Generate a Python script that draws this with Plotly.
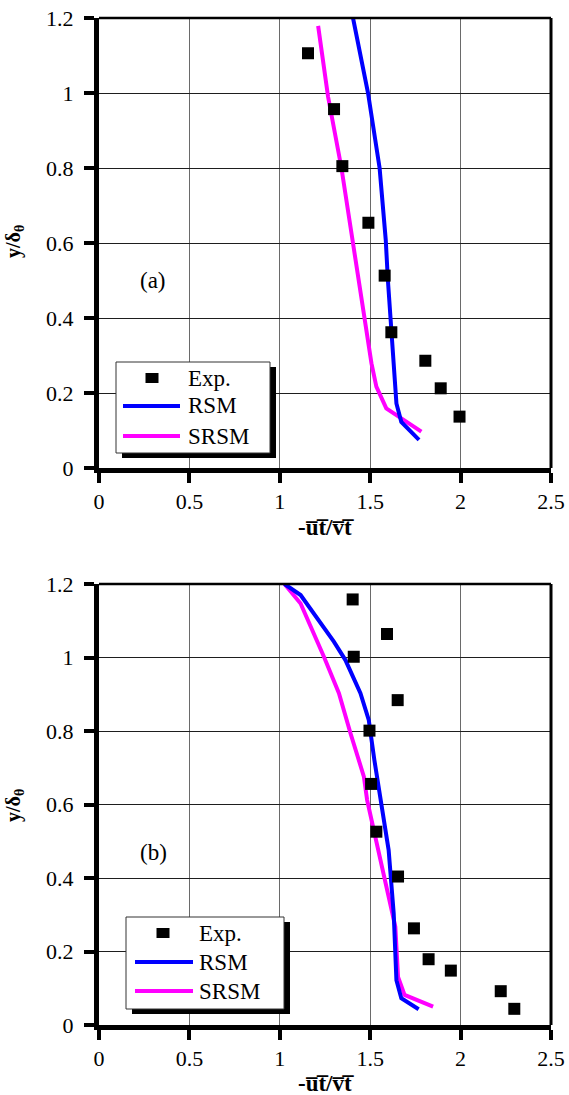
import plotly.graph_objects as go

W, H = 569, 1095

# ---- panel (a) ----
exp_a_x = [1.156, 1.300, 1.346, 1.490, 1.580, 1.617, 1.805, 1.890, 1.994]
exp_a_y = [1.106, 0.957, 0.805, 0.654, 0.513, 0.362, 0.286, 0.2125, 0.137]
rsm_a_x = [1.405, 1.488, 1.552, 1.586, 1.598, 1.617, 1.639, 1.645, 1.672, 1.770]
rsm_a_y = [1.200, 1.000, 0.800, 0.608, 0.500, 0.362, 0.208, 0.172, 0.123, 0.075]
srsm_a_x = [1.212, 1.267, 1.341, 1.405, 1.460, 1.507, 1.534, 1.589, 1.783]
srsm_a_y = [1.179, 0.990, 0.800, 0.599, 0.430, 0.279, 0.217, 0.159, 0.097]

# ---- panel (b) ----
exp_b_x = [1.403, 1.593, 1.409, 1.652, 1.496, 1.505, 1.534, 1.654, 1.742, 1.823, 1.946, 2.222, 2.297]
exp_b_y = [1.158, 1.064, 1.002, 0.884, 0.801, 0.656, 0.526, 0.404, 0.263, 0.179, 0.148, 0.092, 0.044]
rsm_b_x = [1.026, 1.115, 1.299, 1.363, 1.446, 1.492, 1.523, 1.556, 1.602, 1.630, 1.645, 1.672, 1.768]
rsm_b_y = [1.200, 1.170, 1.043, 0.993, 0.903, 0.830, 0.721, 0.612, 0.476, 0.304, 0.122, 0.073, 0.043]
srsm_b_x = [1.026, 1.115, 1.244, 1.327, 1.391, 1.465, 1.483, 1.593, 1.639, 1.654, 1.690, 1.848]
srsm_b_y = [1.200, 1.147, 1.002, 0.903, 0.794, 0.676, 0.612, 0.376, 0.267, 0.131, 0.082, 0.050]

x_ticks = [0, 0.5, 1, 1.5, 2, 2.5]
y_ticks = [0, 0.2, 0.4, 0.6, 0.8, 1, 1.2]

BLUE = "#0000FF"
MAGENTA = "#FF00FF"
FONT = "Liberation Serif, Times New Roman, Times, serif"


def px(x):
    return x / W


def py(y):
    return 1 - y / H


fig = go.Figure()

panels = [
    ("x", "y", exp_a_x, exp_a_y, rsm_a_x, rsm_a_y, srsm_a_x, srsm_a_y),
    ("x2", "y2", exp_b_x, exp_b_y, rsm_b_x, rsm_b_y, srsm_b_x, srsm_b_y),
]
for xa, ya, ex, ey, rx, ry, sx, sy in panels:
    fig.add_trace(go.Scatter(x=sx, y=sy, mode="lines", name="SRSM",
                             line=dict(color=MAGENTA, width=4),
                             xaxis=xa, yaxis=ya, showlegend=False))
    fig.add_trace(go.Scatter(x=rx, y=ry, mode="lines", name="RSM",
                             line=dict(color=BLUE, width=4),
                             xaxis=xa, yaxis=ya, showlegend=False))
    fig.add_trace(go.Scatter(x=ex, y=ey, mode="markers", name="Exp.",
                             marker=dict(symbol="square", size=12, color="black"),
                             xaxis=xa, yaxis=ya, showlegend=False))

xdom = [px(99), px(551)]
ydom_a = [py(468), py(18)]
ydom_b = [py(1025), py(584)]

tickfont = dict(family=FONT, size=22, color="black")


def main_x(anchor):
    return dict(domain=xdom, anchor=anchor, range=[0, 2.5], tickvals=x_ticks,
                showline=True, linewidth=5, linecolor="black",
                ticks="outside", ticklen=10, tickwidth=4, tickcolor="black",
                showgrid=True, gridcolor="#6a6a6a", gridwidth=1, zeroline=False,
                tickfont=tickfont, ticklabelstandoff=0, automargin=False, fixedrange=True)


def main_y(anchor, dom):
    return dict(domain=dom, anchor=anchor, range=[0, 1.2], tickvals=y_ticks,
                showline=True, linewidth=5, linecolor="black",
                ticks="outside", ticklen=10, tickwidth=4, tickcolor="black",
                showgrid=True, gridcolor="#1e1e1e", gridwidth=1, zeroline=False,
                tickfont=tickfont, ticklabelstandoff=6, automargin=False, fixedrange=True)


def inner_x(base, anchor):
    return dict(overlaying=base, anchor=anchor, range=[0, 2.5], tickvals=x_ticks,
                ticks="inside", ticklen=10, tickwidth=4, tickcolor="black",
                showticklabels=False, showgrid=False, showline=False, zeroline=False,
                automargin=False)


def inner_y(base, anchor):
    return dict(overlaying=base, anchor=anchor, range=[0, 1.2], tickvals=y_ticks,
                ticks="inside", ticklen=10, tickwidth=4, tickcolor="black",
                showticklabels=False, showgrid=False, showline=False, zeroline=False,
                automargin=False)


fig.update_layout(
    width=W, height=H,
    margin=dict(l=0, r=0, t=0, b=0, pad=0, autoexpand=False),
    paper_bgcolor="white", plot_bgcolor="white",
    showlegend=False,
    xaxis=main_x("y"), yaxis=main_y("x", ydom_a),
    xaxis2=main_x("y2"), yaxis2=main_y("x2", ydom_b),
    xaxis3=inner_x("x", "y"), yaxis3=inner_y("y", "x"),
    xaxis4=inner_x("x2", "y2"), yaxis4=inner_y("y2", "x2"),
)

shapes = []
# top and right frame lines of both panels
for xa, ya in [("x", "y"), ("x2", "y2")]:
    shapes.append(dict(type="line", xref=f"{xa} domain", yref=f"{ya} domain",
                       x0=0, x1=1, y0=1, y1=1, line=dict(color="black", width=2.5), layer="above"))
    shapes.append(dict(type="line", xref=f"{xa} domain", yref=f"{ya} domain",
                       x0=1, x1=1, y0=0, y1=1, line=dict(color="black", width=3), layer="above"))

annotations = []


def legend_box(left, top, right, bottom, rows, marker_cx, line_x0, line_x1, text_x):
    # drop shadow, then the white box
    shapes.append(dict(type="rect", xref="paper", yref="paper",
                       x0=px(left + 6), x1=px(right + 6), y0=py(bottom + 5), y1=py(top + 5),
                       fillcolor="black", line=dict(width=0), layer="above"))
    shapes.append(dict(type="rect", xref="paper", yref="paper",
                       x0=px(left), x1=px(right), y0=py(bottom), y1=py(top),
                       fillcolor="white", line=dict(color="#333333", width=1), layer="above"))
    (exp_y, rsm_y, srsm_y) = rows
    shapes.append(dict(type="rect", xref="paper", yref="paper",
                       x0=px(marker_cx - 6.5), x1=px(marker_cx + 6.5),
                       y0=py(exp_y + 5), y1=py(exp_y - 5),
                       fillcolor="black", line=dict(width=0), layer="above"))
    shapes.append(dict(type="line", xref="paper", yref="paper",
                       x0=px(line_x0), x1=px(line_x1), y0=py(rsm_y), y1=py(rsm_y),
                       line=dict(color=BLUE, width=4), layer="above"))
    shapes.append(dict(type="line", xref="paper", yref="paper",
                       x0=px(line_x0), x1=px(line_x1), y0=py(srsm_y), y1=py(srsm_y),
                       line=dict(color=MAGENTA, width=4), layer="above"))
    for label, yy in [("Exp.", exp_y), ("RSM", rsm_y), ("SRSM", srsm_y)]:
        annotations.append(dict(text=label, xref="paper", yref="paper",
                                x=px(text_x), y=py(yy), xanchor="left", yanchor="middle",
                                showarrow=False, font=dict(family=FONT, size=23, color="black")))


legend_box(116, 362, 270, 453, (378, 406, 436), 152, 123, 180, 186)
legend_box(126, 917, 284, 1009, (933, 962, 991), 163, 135, 193, 197)

# overlined velocity correlations, written with a combining overline (U+0305)
OV = "\u0305"
xtitle = f"<b>-u{OV}t{OV}/v{OV}t{OV}</b>"
ytitle = "<b>y/δ<sub>θ</sub></b>"

for tag, tag_y, ycen, xt_y in [("(a)", 280, 242, 527), ("(b)", 852, 806, 1083)]:
    annotations.append(dict(text=tag, xref="paper", yref="paper", x=px(153), y=py(tag_y),
                            xanchor="center", yanchor="middle", showarrow=False,
                            font=dict(family=FONT, size=23, color="black")))
    annotations.append(dict(text=ytitle, xref="paper", yref="paper", x=px(14), y=py(ycen),
                            xanchor="center", yanchor="middle", textangle=-90, showarrow=False,
                            font=dict(family=FONT, size=20, color="black")))
    annotations.append(dict(text=xtitle, xref="paper", yref="paper", x=px(326), y=py(xt_y),
                            xanchor="center", yanchor="middle", showarrow=False,
                            font=dict(family=FONT, size=23, color="black")))

fig.update_layout(shapes=shapes, annotations=annotations)

fig.write_html("out.html")
